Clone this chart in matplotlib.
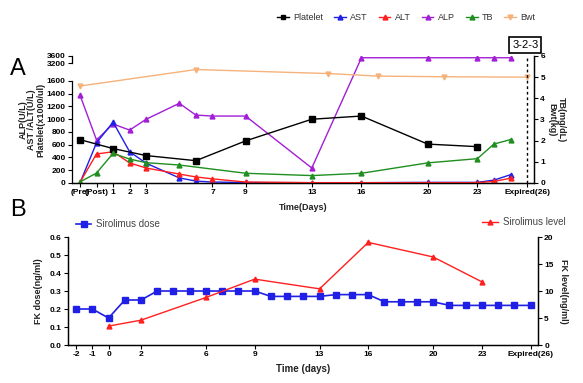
import numpy as np
import matplotlib.pyplot as plt
from matplotlib.lines import Line2D

plt.rcParams['font.family'] = ['Liberation Sans', 'DejaVu Sans']

# ---- Panel A data ----
days_a = [-1, 0, 1, 2, 3, 5, 6, 7, 9, 13, 16, 20, 23, 24, 25]
plt_days = [-1, 1, 3, 6, 9, 13, 16, 20, 23]
platelet = [680, 540, 430, 350, 660, 1000, 1050, 610, 570]
ast = [0, 630, 955, 490, 310, 80, 30, 15, 8, 5, 5, 10, 10, 45, 130]
alt = [10, 455, 490, 315, 235, 140, 95, 65, 15, 5, 5, 5, 5, 25, 75]
alp = [1380, 675, 925, 830, 1000, 1250, 1065, 1050, 1050, 235, 3500, 3500, 3500, 3500, 3500]
tb_days = [-1, 0, 1, 2, 3, 5, 9, 13, 16, 20, 23, 24, 25]
tb = [0.05, 0.47, 1.4, 1.13, 0.96, 0.85, 0.46, 0.35, 0.46, 0.95, 1.15, 1.84, 2.05]
bwt_days = [-1, 6, 14, 17, 21, 26]
bwt = [4.58, 5.36, 5.17, 5.05, 5.02, 5.0]

ticks_a = [-1, 0, 1, 2, 3, 7, 9, 13, 16, 20, 23, 26]
ticklabels_a = ['(Pre)', '(Post)', '1', '2', '3', '7', '9', '13', '16', '20', '23', 'Expired(26)']

# ---- Panel B data ----
dose_days = list(range(-2, 27))
dose = [0.2, 0.2, 0.15, 0.25, 0.25, 0.3, 0.3, 0.3, 0.3, 0.3, 0.3, 0.3,
        0.27, 0.27, 0.27, 0.27, 0.28, 0.28, 0.28, 0.24, 0.24, 0.24, 0.24,
        0.22, 0.22, 0.22, 0.22, 0.22, 0.22]
level_days = [0, 2, 6, 9, 13, 16, 20, 23]
level = [3.5, 4.6, 8.8, 12.2, 10.4, 19.0, 16.3, 11.7]

ticks_b = [-2, -1, 0, 2, 6, 9, 13, 16, 20, 23, 26]
ticklabels_b = ['-2', '-1', '0', '2', '6', '9', '13', '16', '20', '23', 'Expired(26)']

c_plt, c_ast, c_alt, c_alp, c_tb, c_bwt = 'black', '#1f1fe6', '#ff1f1f', '#a21fd6', '#1f8f1f', '#f5b27a'


# broken left axis: 0-1600 normal, 1600-3200 squeezed, 3200-3600 compressed
def fwd(y):
    y = np.asarray(y, float)
    return np.where(y <= 1600, y,
                    np.where(y <= 3200, 1600 + (y - 1600) * 0.176,
                             1882 + (y - 3200) * 0.2745))


def inv(v):
    v = np.asarray(v, float)
    return np.where(v <= 1600, v,
                    np.where(v <= 1882, 1600 + (v - 1600) / 0.176,
                             3200 + (v - 1882) / 0.2745))


tick_kw = dict(labelsize=6, width=0.8, length=3, pad=1.5)

fig = plt.figure(figsize=(5.83, 3.83), dpi=100)

ax = fig.add_axes([0.1235, 0.5222, 0.7925, 0.3316])
ax.set_yscale('function', functions=(fwd, inv))
ax.set_ylim(0, 3600)
ax.set_xlim(-1.48, 26.42)
ax2 = ax.twinx()
ax2.set_ylim(0, 6)

lw = 1.0
ax.plot(plt_days, platelet, color=c_plt, marker='s', ms=4, lw=lw, zorder=5)
ax.plot(days_a, alp, color=c_alp, marker='^', ms=3.5, lw=lw, zorder=4)
ax.plot(days_a, ast, color=c_ast, marker='^', ms=3.5, lw=lw, zorder=4)
ax.plot(days_a, alt, color=c_alt, marker='^', ms=3.5, lw=lw, zorder=4)
ax2.plot(tb_days, tb, color=c_tb, marker='^', ms=3.5, lw=lw)
ax2.plot(bwt_days, bwt, color=c_bwt, marker='v', ms=3.5, lw=lw)
ax2.axvline(26, color='black', ls=(0, (2, 2)), lw=1.0)

ax.set_yticks([0, 200, 400, 600, 800, 1000, 1200, 1400, 1600, 3200, 3600])
ax.set_xticks(ticks_a)
ax.set_xticklabels(ticklabels_a)
ax.tick_params(axis='both', **tick_kw)
ax2.tick_params(axis='y', **tick_kw)
ax2.set_yticks(range(7))
for a in (ax, ax2):
    a.spines['top'].set_visible(False)
    for s in a.spines.values():
        s.set_linewidth(0.9)
    for lab in a.get_xticklabels() + a.get_yticklabels():
        lab.set_fontweight('bold')
ax.spines['left'].set_bounds(0, 1600)
ax2.spines['left'].set_visible(False)
ax.plot([0, 0], [3200, 3600], transform=ax.get_yaxis_transform(),
        color='black', lw=0.9, clip_on=False)

ax.set_ylabel('ALP(U/L)\nAST /ALT(U/L)\nPlatelet(x1000/ul)', fontsize=6.5,
              fontweight='bold', linespacing=1.0, labelpad=1, color='#222222')
ax2.set_ylabel('TB(mg/dL)\nBwt(kg)', fontsize=6.5, fontweight='bold',
               rotation=270, linespacing=1.0, labelpad=15, color='#222222')
ax.set_xlabel('Time(Days)', fontsize=6.5, fontweight='bold', labelpad=5, color='#222222')

fig.text(0.017, 0.805, 'A', fontsize=17)
fig.text(0.901, 0.882, '3-2-3', fontsize=8, ha='center', va='center',
         bbox=dict(boxstyle='square,pad=0.25', fc='white', ec='black', lw=1.2))

handles = [
    Line2D([], [], color=c_plt, marker='s', ms=3.5, lw=lw),
    Line2D([], [], color=c_ast, marker='^', ms=3.5, lw=lw),
    Line2D([], [], color=c_alt, marker='^', ms=3.5, lw=lw),
    Line2D([], [], color=c_alp, marker='^', ms=3.5, lw=lw),
    Line2D([], [], color=c_tb, marker='^', ms=3.5, lw=lw),
    Line2D([], [], color=c_bwt, marker='v', ms=3.5, lw=lw),
]
leg = fig.legend(handles, ['Platelet', 'AST', 'ALT', 'ALP', 'TB', 'Bwt'],
                 loc='center', bbox_to_anchor=(0.697, 0.955), ncol=6, frameon=False,
                 fontsize=6.5, handlelength=1.3, handletextpad=0.5, columnspacing=1.2)
for t in leg.get_texts():
    t.set_color('#333333')

# ---- Panel B ----
bx = fig.add_axes([0.1166, 0.0992, 0.806, 0.282])
bx.set_xlim(-2.5, 26.45)
bx.set_ylim(0, 0.6)
bx2 = bx.twinx()
bx2.set_ylim(0, 20)

l1, = bx.plot(dose_days, dose, color=c_ast, marker='s', ms=4, lw=1.2)
l2, = bx2.plot(level_days, level, color=c_alt, marker='^', ms=3.5, lw=1.0)

bx.set_xticks(ticks_b)
bx.set_xticklabels(ticklabels_b)
bx.set_yticks(np.arange(0, 0.61, 0.1))
bx.set_yticklabels([f'{v:.1f}' for v in np.arange(0, 0.61, 0.1)])
bx2.set_yticks([0, 5, 10, 15, 20])
bx.tick_params(axis='both', **tick_kw)
bx2.tick_params(axis='y', **tick_kw)
for a in (bx, bx2):
    a.spines['top'].set_visible(False)
    for s in a.spines.values():
        s.set_linewidth(0.9)
    for lab in a.get_xticklabels() + a.get_yticklabels():
        lab.set_fontweight('bold')

bx.set_ylabel('FK dose(ng/ml)', fontsize=6.5, fontweight='bold', labelpad=5, color='#222222')
bx2.set_ylabel('FK level(ng/ml)', fontsize=6.5, fontweight='bold', rotation=270,
               labelpad=10, color='#222222')
bx.set_xlabel('Time (days)', fontsize=7, fontweight='bold', labelpad=4, color='#222222')

fig.text(0.017, 0.435, 'B', fontsize=17)
lb1 = fig.legend([l1], ['Sirolimus dose'], loc='center left', bbox_to_anchor=(0.115, 0.415),
                 frameon=False, fontsize=7, handlelength=1.6, handletextpad=0.5)
lb2 = fig.legend([l2], ['Sirolimus level'], loc='center right', bbox_to_anchor=(0.985, 0.42),
                 frameon=False, fontsize=7, handlelength=1.6, handletextpad=0.5)
for lg in (lb1, lb2):
    for t in lg.get_texts():
        t.set_color('#444444')

fig.savefig('out.png', dpi=100)
